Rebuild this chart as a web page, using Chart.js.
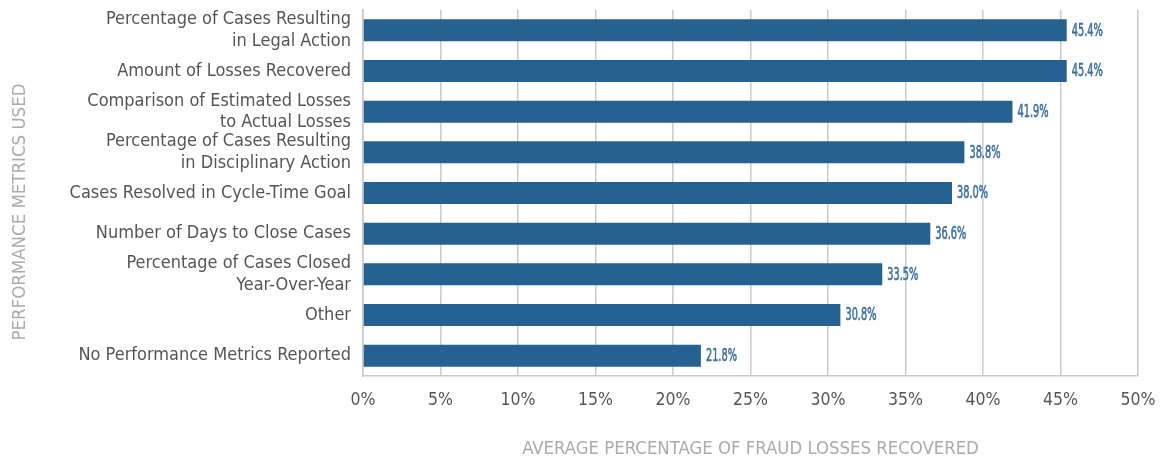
<!DOCTYPE html>
<html>
<head>
<meta charset="utf-8">
<script src="https://cdn.jsdelivr.net/npm/chart.js@4"></script>
<style>
  html, body { margin: 0; padding: 0; background: #fff; }
  #wrap { width: 1164px; height: 460px; }
</style>
</head>
<body>
<div id="wrap"><canvas id="metricsChart" width="1164" height="460"></canvas></div>
<script>
// Performance metrics vs. average share of fraud losses recovered
const metrics = [
    ['Percentage of Cases Resulting', 'in Legal Action'],
    'Amount of Losses Recovered',
    ['Comparison of Estimated Losses', 'to Actual Losses'],
    ['Percentage of Cases Resulting', 'in Disciplinary Action'],
    'Cases Resolved in Cycle-Time Goal',
    'Number of Days to Close Cases',
    ['Percentage of Cases Closed', 'Year-Over-Year'],
    'Other',
    'No Performance Metrics Reported'
];
const recovered = [45.4, 45.4, 41.9, 38.8, 38.0, 36.6, 33.5, 30.8, 21.8];
const xTicks = [0, 5, 10, 15, 20, 25, 30, 35, 40, 45, 50];
const yTitle = 'PERFORMANCE METRICS USED';

const FONT = "'DejaVu Sans Condensed', 'Liberation Sans Narrow', sans-serif";

// Value text past the end of each bar (squeezed narrow) + left axis title
const valueLabels = {
    id: 'valueLabels',
    afterDatasetsDraw(chart) {
        const c = chart.ctx;
        const meta = chart.getDatasetMeta(0);
        const squeeze = 0.64;
        c.save();
        c.font = "17px " + FONT;
        c.fillStyle = "#3d70a0";
        c.strokeStyle = "#3d70a0";
        c.lineWidth = 0.6;
        c.textAlign = "left";
        c.textBaseline = "middle";
        meta.data.forEach(function (bar, i) {
            const txt = recovered[i].toFixed(1) + '%';
            c.save();
            c.translate(bar.x + 5, bar.y + 1);
            c.scale(squeeze, 1);
            c.fillText(txt, 0, 0);
            c.strokeText(txt, 0, 0);
            c.restore();
        });
        c.restore();
    },
    afterDraw(chart) {
        const c = chart.ctx;
        const area = chart.chartArea;
        c.save();
        c.translate(20, (area.top + area.bottom) / 2 + 19);
        c.rotate(-Math.PI / 2);
        c.font = "18.5px " + FONT;
        c.fillStyle = "#ababab";
        c.textAlign = "center";
        c.textBaseline = "middle";
        c.fillText(yTitle, 0, 0);
        c.restore();
    }
};

const ctx = document.getElementById('metricsChart');
new Chart(ctx, {
    type: 'bar',
    data: {
        labels: metrics,
        datasets: [{
            data: recovered,
            backgroundColor: '#256191',
            barPercentage: 0.6,
            categoryPercentage: 0.9
        }]
    },
    options: {
        indexAxis: 'y',
        responsive: false,
        animation: false,
        layout: { padding: { top: 10, right: 26, left: 0, bottom: 0 } },
        plugins: {
            legend: { display: false },
            tooltip: { enabled: false }
        },
        scales: {
            x: {
                min: 0,
                max: 50,
                afterBuildTicks: function (scale) {
                    scale.ticks = xTicks.map(v => ({ value: v }));
                },
                afterFit: function (scale) {
                    scale.height = 84;
                    scale.paddingLeft = 0;
                    scale.paddingRight = 0;
                },
                grid: { color: '#c9c9c9', lineWidth: 1.5, drawTicks: false },
                border: { color: '#c9c9c9', width: 1.5 },
                ticks: {
                    padding: 14,
                    color: '#555555',
                    font: { family: FONT, size: 17.5 },
                    callback: v => v + '%'
                },
                title: {
                    display: true,
                    text: 'AVERAGE PERCENTAGE OF FRAUD LOSSES RECOVERED',
                    color: '#ababab',
                    font: { family: FONT, size: 18.4 },
                    padding: { top: 0, bottom: 0 }
                }
            },
            y: {
                afterFit: function (scale) {
                    scale.width = 363;
                    scale.paddingTop = 0;
                    scale.paddingBottom = 0;
                },
                grid: { color: 'rgba(0,0,0,0)', drawTicks: false },
                border: { color: '#c9c9c9', width: 1.5 },
                ticks: {
                    autoSkip: false,
                    padding: 12,
                    color: '#555555',
                    font: { family: FONT, size: 18, lineHeight: 1.17 }
                }
            }
        }
    },
    plugins: [valueLabels]
});
</script>
</body>
</html>
